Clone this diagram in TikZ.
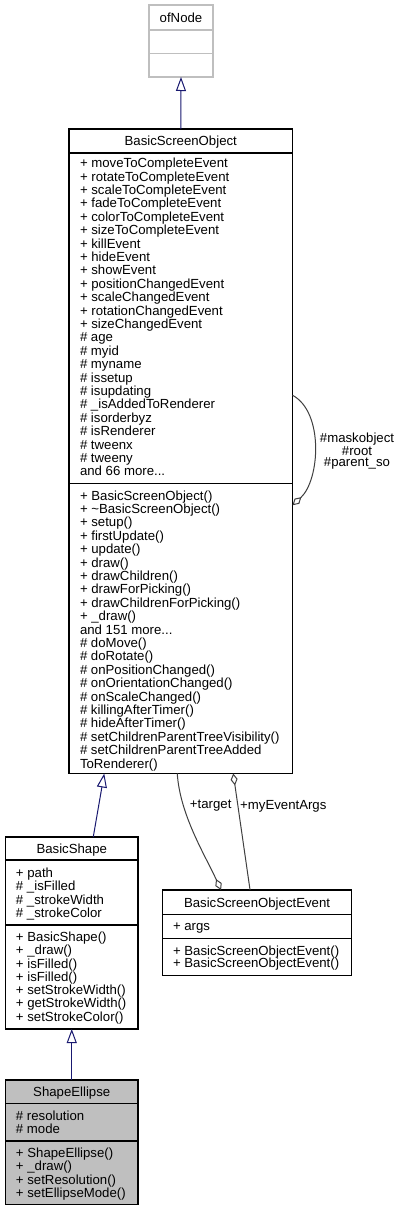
\documentclass[tikz,border=0pt]{standalone}
\usepackage{fontspec}
\setmainfont{Liberation Sans}
\usetikzlibrary{arrows.meta}
\definecolor{inhblue}{HTML}{191970}
\definecolor{edgegray}{HTML}{404040}
\definecolor{selgray}{HTML}{BFBFBF}
\definecolor{extgray}{HTML}{BFBFBF}
\newcommand{\tdots}{...}
\begin{document}
\begin{tikzpicture}[x=1pt,y=-1pt,
  font=\fontsize{13.2}{13.4}\selectfont,
  classbox/.style={draw=black, line width=1.2pt, anchor=north west, inner sep=0pt, outer sep=0pt},
  extbox/.style={classbox, draw=extgray},
  divider/.style={draw=black, line width=1.2pt},
  extdivider/.style={divider, draw=extgray},
  txt/.style={inner sep=0pt, outer sep=0pt, anchor=base west},
  ttl/.style={inner sep=0pt, outer sep=0pt, anchor=base},
  inh/.style={draw=inhblue, line width=1pt, -{Triangle[open,length=14pt,width=10pt,line width=1pt]}},
  assoc/.style={draw=edgegray, line width=1pt},
  elabel/.style={inner sep=0pt, align=center, font=\fontsize{13.2}{11.5}\selectfont}
]
\fill[white] (0,0) rectangle (400,1211);
\useasboundingbox (0,0) rectangle (400,1211);

% ---------- ofNode ----------
\node[extbox, minimum width=64, minimum height=72] (ofn) at (149,5) {};
\draw[extdivider] (ofn.west |- 0,30) -- (ofn.east |- 0,30);
\draw[extdivider] (ofn.west |- 0,53.5) -- (ofn.east |- 0,53.5);
\node[ttl] (ofnt) at (ofn.north |- 0,22) {ofNode};

% ---------- BasicScreenObject ----------
\node[classbox, minimum width=223.5, minimum height=644.5] (bso) at (69,129) {};
\draw[divider] (bso.west |- 0,153) -- (bso.east |- 0,153);
\draw[divider] (bso.west |- 0,483.3) -- (bso.east |- 0,483.3);
\node[ttl] (bsot) at (bso.north |- 0,145.7) {BasicScreenObject};
\foreach \lbl [count=\i from 0] in {
  + moveToCompleteEvent, + rotateToCompleteEvent, + scaleToCompleteEvent,
  + fadeToCompleteEvent, + colorToCompleteEvent, + sizeToCompleteEvent,
  + killEvent, + hideEvent, + showEvent, + positionChangedEvent,
  + scaleChangedEvent, + rotationChangedEvent, + sizeChangedEvent,
  \# age, \# myid, \# myname, \# issetup, \# isupdating,
  \# \_isAddedToRenderer, \# isorderbyz, \# isRenderer, \# tweenx,
  \# tweeny, and 66 more\tdots}
  \node[txt] (bsoa\i) at (80,167.7+\i*13.4) {\lbl};
\foreach \lbl [count=\i from 0] in {
  + BasicScreenObject(), + \textasciitilde BasicScreenObject(), + setup(),
  + firstUpdate(), + update(), + draw(), + drawChildren(),
  + drawForPicking(), + drawChildrenForPicking(), + \_draw(),
  and 151 more\tdots, \# doMove(), \# doRotate(), \# onPositionChanged(),
  \# onOrientationChanged(), \# onScaleChanged(), \# killingAfterTimer(),
  \# hideAfterTimer(), \# setChildrenParentTreeVisibility(),
  \# setChildrenParentTreeAdded, ToRenderer()}
  \node[txt] (bsom\i) at (80,500+\i*13.4) {\lbl};

% ---------- BasicShape ----------
\node[classbox, minimum width=132.5, minimum height=192] (bs) at (5.5,837) {};
\draw[divider] (bs.west |- 0,860) -- (bs.east |- 0,860);
\draw[divider] (bs.west |- 0,925) -- (bs.east |- 0,925);
\node[ttl] (bst) at (bs.north |- 0,853.3) {BasicShape};
\foreach \lbl [count=\i from 0] in {+ path, \# \_isFilled, \# \_strokeWidth, \# \_strokeColor}
  \node[txt] (bsa\i) at (16,877.3+\i*13.4) {\lbl};
\foreach \lbl [count=\i from 0] in {+ BasicShape(), + \_draw(), + isFilled(), + isFilled(),
  + setStrokeWidth(), + getStrokeWidth(), + setStrokeColor()}
  \node[txt] (bsm\i) at (16,941.7+\i*13.25) {\lbl};

% ---------- BasicScreenObjectEvent ----------
\node[classbox, minimum width=189.5, minimum height=85.3] (bsoe) at (162.3,890) {};
\draw[divider] (bsoe.west |- 0,914.3) -- (bsoe.east |- 0,914.3);
\draw[divider] (bsoe.west |- 0,938.3) -- (bsoe.east |- 0,938.3);
\node[ttl] (bsoet) at (bsoe.north |- 0,907.5) {BasicScreenObjectEvent};
\node[txt] (bsoea0) at (173,930.7) {+ args};
\node[txt] (bsoem0) at (173,955) {+ BasicScreenObjectEvent()};
\node[txt] (bsoem1) at (173,967.8) {+ BasicScreenObjectEvent()};

% ---------- ShapeEllipse ----------
\node[classbox, fill=selgray, minimum width=132.5, minimum height=124.3] (se) at (5.5,1080) {};
\draw[divider] (se.west |- 0,1103.3) -- (se.east |- 0,1103.3);
\draw[divider] (se.west |- 0,1141) -- (se.east |- 0,1141);
\node[ttl] (set) at (se.north |- 0,1096) {ShapeEllipse};
\foreach \lbl [count=\i from 0] in {\# resolution, \# mode}
  \node[txt] (sea\i) at (16,1120+\i*13.4) {\lbl};
\foreach \lbl [count=\i from 0] in {+ ShapeEllipse(), + \_draw(), + setResolution(), + setEllipseMode()}
  \node[txt] (sem\i) at (16,1157.3+\i*13.4) {\lbl};

% ---------- Inheritance ----------
\draw[inh] (bso.north) -- (ofn.south);
\draw[inh] ([xshift=21.5pt]bs.north) -- ([xshift=-76.5pt]bso.south);
\draw[inh] (se.north) -- (bs.south);

% ---------- Associations ----------
\draw[assoc, {Diamond[open,length=12pt,width=7pt,line width=1pt]}-]
  ([xshift=-36pt]bsoe.north) .. controls (205,855) and (180,815) .. ([xshift=-3.5pt]bso.south);
\node[elabel] (lt) at (210.7,806) {+target};
\draw[assoc, {Diamond[open,length=12pt,width=7pt,line width=1pt]}-]
  ([xshift=52.5pt]bso.south) -- ([xshift=-7pt]bsoe.north);
\node[elabel] (lm) at (283.3,806) {+myEventArgs};
\draw[assoc, -{Diamond[open,length=12pt,width=7pt,line width=1pt]}]
  ([yshift=56pt]bso.east) .. controls (324,412) and (320,480) .. ([yshift=-54pt]bso.east);
\node[elabel] (ll) at (357,451) {\#maskobject\\\#root\\\#parent\_so};
\end{tikzpicture}
\end{document}
